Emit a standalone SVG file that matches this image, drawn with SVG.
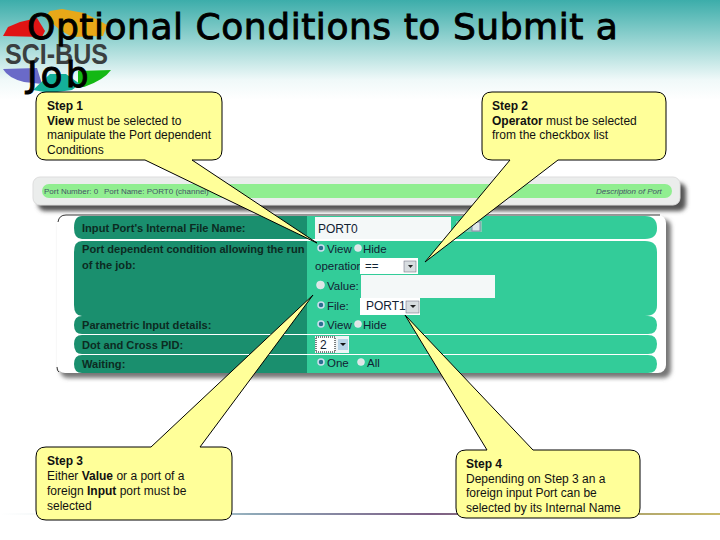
<svg xmlns="http://www.w3.org/2000/svg" width="720" height="540" viewBox="0 0 720 540">
<style>
text{font-family:"Liberation Sans",Arial,sans-serif;fill:#111}
.title{font-family:"DejaVu Sans",sans-serif;font-size:36px;fill:#000;stroke:#000;stroke-width:.9px;letter-spacing:.55px}
.call{fill:#ffff99;stroke:#000;stroke-width:1}
.t{font-size:12px}
.b{font-weight:bold}
.lab{font-size:11.1px;font-weight:bold;fill:#0c2b22}
.val{font-size:11.5px;fill:#123}
.hd{font-size:8px;fill:#456}
.dark{fill:#1a8f6e}
.lite{fill:#33cc99}
.in{fill:#f4f8f8}
.r{fill:#dfe5e5;stroke:#eef;stroke-width:.5}
.on{fill:#2a6f8f;stroke:#cde;stroke-width:1.5}
.bt{fill:#d8dde0;stroke:#667;stroke-width:.5}
</style>
<defs>
<linearGradient id="bg" x1="0" y1="0" x2="0" y2="1"><stop offset="0" stop-color="#3cadaa"/><stop offset=".45" stop-color="#a0d8d6"/><stop offset=".8" stop-color="#f0f9f9"/><stop offset="1" stop-color="#fff"/></linearGradient>
<linearGradient id="foot" x1="0" y1="0" x2="1" y2="0"><stop offset="0" stop-color="#fff"/><stop offset=".22" stop-color="#d5e3e6"/><stop offset=".35" stop-color="#8fa9b8"/><stop offset=".6" stop-color="#7d5f86"/><stop offset=".8" stop-color="#a09a70"/><stop offset="1" stop-color="#c9b96a"/></linearGradient>
<filter id="sh" x="-5%" y="-20%" width="110%" height="140%"><feGaussianBlur stdDeviation="2"/></filter>
</defs>
<rect width="720" height="100" fill="url(#bg)"/>
<rect x="0" y="513" width="720" height="2" fill="url(#foot)"/>

<g id="logo">
<path d="M3 36 L8 27 L20 22 L37 18 L45 31 L42 37 Z" fill="#e01414"/>
<path d="M45 17 L50 11 L62 9 L84 13 L100 21 L107 25 L103 36 L72 37 L60 30 Z" fill="#e8a818"/>
<path d="M3 69 L37 68 L42 84 L24 82 Q8 78 3 69 Z" fill="#6a6ac8"/>
<path d="M78 71 L111 70 Q104 80 84 87 L78 86 Z" fill="#14b814"/>
<path d="M33 90 L50 74 L66 74 L80 84 L72 90 L50 93 Z" fill="#14b09a"/>
<text x="5" y="64" textLength="103" lengthAdjust="spacingAndGlyphs" style="font-size:30px;font-weight:bold;fill:#3a3f40">SCI-BUS</text>
</g>
<g id="title">
<text class="title" x="27" y="39">Optional Conditions to Submit a</text>
<text class="title" x="27" y="87" style="letter-spacing:3px">Job</text>
</g>

<g id="port-header">
<rect x="38" y="183" width="648" height="28" rx="7" fill="#555" filter="url(#sh)"/>
<rect x="33" y="177" width="647" height="28" rx="7" fill="#ebedec" stroke="#ddd"/>
<rect x="42" y="184" width="630" height="14" rx="7" fill="#90ee90"/>
<text class="hd" x="44" y="193.500">Port Number: 0</text>
<text class="hd" x="104" y="193.500">Port Name: PORT0 (channel)</text>
<text class="hd" x="596" y="193.500" style="font-style:italic">Description of Port</text>
</g>

<g id="port-form">
<rect x="60" y="219" width="611" height="159" rx="8" fill="#777" filter="url(#sh)"/>
<rect x="57" y="215" width="609" height="158" rx="8" fill="#fff"/>
<path d="M58 222 Q59 215 66 215 L660 215 M57 367 Q57 371 59 372" fill="none" stroke="#000" stroke-width=".8"/>
<path class="dark" d="M82 216H307V239H82Q74 239 74 228Q74 216 82 216Z"/>
<path class="lite" d="M307 216H645Q657 216 657 228Q657 239 645 239H307Z"/>
<path class="dark" d="M82 241H307V316H82Q74 316 74 305V252Q74 241 82 241Z"/>
<path class="lite" d="M307 241H645Q657 241 657 252V305Q657 316 645 316H307Z"/>
<path class="dark" d="M82 316H307V334H82Q74 334 74 325Q74 316 82 316Z"/>
<path class="lite" d="M307 316H648Q657 316 657 325Q657 334 648 334H307Z"/>
<path class="dark" d="M82 335H307V354H82Q74 354 74 344Q74 335 82 335Z"/>
<path class="lite" d="M307 335H648Q657 335 657 344Q657 354 648 354H307Z"/>
<path class="dark" d="M82 355H307V373H82Q74 373 74 364Q74 355 82 355Z"/>
<path class="lite" d="M307 355H648Q657 355 657 364Q657 373 648 373H307Z"/>
<text class="lab" x="82" y="232">Input Port's Internal File Name:</text>
<text class="lab" x="82" y="253">Port dependent condition allowing the run</text>
<text class="lab" x="82" y="269">of the job:</text>
<text class="lab" x="82" y="329">Parametric Input details:</text>
<text class="lab" x="82" y="349">Dot and Cross PID:</text>
<text class="lab" x="82" y="368">Waiting:</text>
<rect class="in" x="315" y="217" width="136" height="22"/>
<text class="val" x="318" y="233" style="font-size:12px">PORT0</text>
<rect x="456" y="221" width="26" height="11" fill="#7fcdb4"/>
<rect x="472" y="222" width="8" height="9" fill="#dfe8ea" stroke="#88a"/>
<circle class="on" cx="321" cy="248" r="3"/><text class="val" x="327" y="253">View</text>
<circle class="r" cx="358" cy="248" r="3.500"/><text class="val" x="363" y="253">Hide</text>
<text class="val" x="315" y="270">operation</text>
<rect x="360" y="258" width="58" height="16" fill="#fff"/>
<text class="val" x="365" y="270">==</text>
<rect class="bt" x="404" y="261" width="12" height="11"/><path d="M408 265h5l-2.500 3z" fill="#222"/>
<circle class="r" cx="320.500" cy="285" r="4"/><text class="val" x="327" y="290">Value:</text>
<rect class="in" x="361" y="275" width="134" height="23"/>
<circle class="on" cx="321" cy="305" r="3"/><text class="val" x="327" y="310">File:</text>
<rect x="360" y="298" width="60" height="17" fill="#fff"/>
<text class="val" x="366" y="310" style="font-size:12px">PORT1</text>
<rect class="bt" x="406" y="301" width="13" height="12"/><path d="M410 305h6l-3 3z" fill="#222"/>
<circle class="on" cx="321" cy="324" r="3"/><text class="val" x="327" y="329">View</text>
<circle class="r" cx="358" cy="324" r="3.500"/><text class="val" x="363" y="329">Hide</text>
<rect x="315" y="336" width="34" height="17" fill="#eef4f6"/>
<rect x="316" y="337" width="19" height="15" fill="#fff" stroke="#000" stroke-dasharray="1 1"/>
<text class="val" x="320" y="349" style="font-size:12px">2</text>
<rect x="338" y="339" width="10" height="11" fill="#b8d4e8"/><path d="M340 343h6l-3 3z" fill="#111"/>
<circle class="on" cx="321" cy="362" r="3"/><text class="val" x="327" y="367">One</text>
<circle class="r" cx="361" cy="362" r="3.500"/><text class="val" x="367" y="367">All</text>
</g>

<g id="step-1">
<path class="call" d="M46 92H212Q222 92 222 102V150Q222 160 212 160H192L317 243L145 160H46Q36 160 36 150V102Q36 92 46 92Z"/>
<text class="t" x="47" y="110"><tspan class="b">Step 1</tspan><tspan x="47" dy="14.500"><tspan class="b">View</tspan> must be selected to</tspan><tspan x="47" dy="14.500">manipulate the Port dependent</tspan><tspan x="47" dy="14.500">Conditions</tspan></text>
</g>
<g id="step-2">
<path class="call" d="M492 92H656Q666 92 666 102V150Q666 160 656 160H558L425 262L510 160H492Q482 160 482 150V102Q482 92 492 92Z"/>
<text class="t" x="492" y="110"><tspan class="b">Step 2</tspan><tspan x="492" dy="14.500"><tspan class="b">Operator</tspan> must be selected</tspan><tspan x="492" dy="14.500">from the checkbox list</tspan></text>
</g>
<g id="step-3">
<path class="call" d="M46 447H151L313 295L200 447H222Q232 447 232 457V510Q232 520 222 520H46Q36 520 36 510V457Q36 447 46 447Z"/>
<text class="t" x="47" y="465"><tspan class="b">Step 3</tspan><tspan x="47" dy="15">Either <tspan class="b">Value</tspan> or a port of a</tspan><tspan x="47" dy="15">foreign <tspan class="b">Input</tspan> port must be</tspan><tspan x="47" dy="15">selected</tspan></text>
</g>
<g id="step-4">
<path class="call" d="M466 450H487L405 315L533 450H630Q640 450 640 460V508Q640 518 630 518H466Q456 518 456 508V460Q456 450 466 450Z"/>
<text class="t" x="466" y="468"><tspan class="b">Step 4</tspan><tspan x="466" dy="14.500">Depending on Step 3 an a</tspan><tspan x="466" dy="14.500">foreign input Port can be</tspan><tspan x="466" dy="14.500">selected by its Internal Name</tspan></text>
</g>
</svg>
